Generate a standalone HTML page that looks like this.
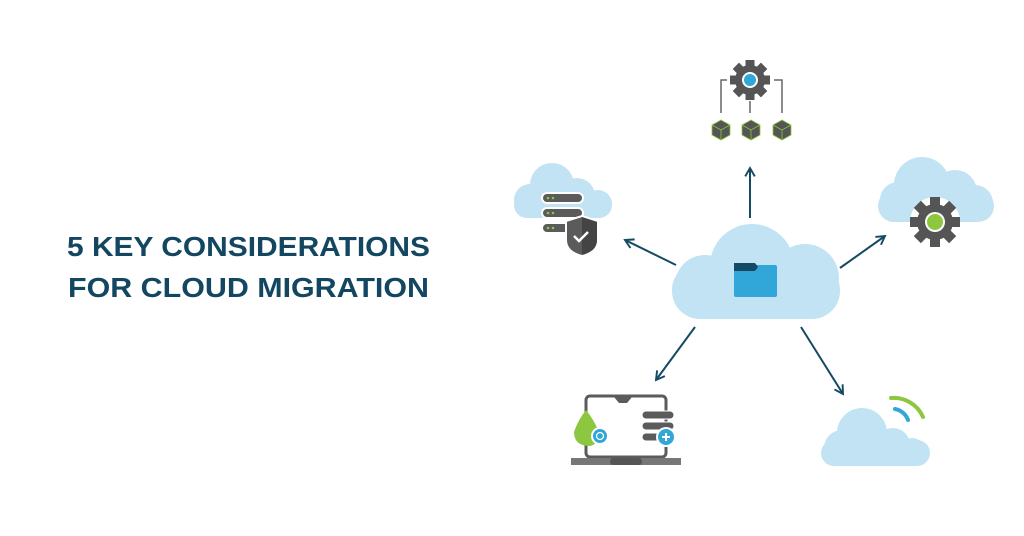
<!DOCTYPE html>
<html><head><meta charset="utf-8"><style>
html,body{margin:0;padding:0;background:#fff;width:1024px;height:536px;overflow:hidden}
svg{display:block}
</style></head><body>
<svg width="1024" height="536" viewBox="0 0 1024 536" xmlns="http://www.w3.org/2000/svg">
<defs>
<marker id="ah" viewBox="0 0 10 10" refX="8" refY="5" markerWidth="6" markerHeight="6" orient="auto"><path d="M1,1 L8,5 L1,9" fill="none" stroke="#144a63" stroke-width="1.6"/></marker>
</defs>
<text x="67" y="256" font-family="Liberation Sans, sans-serif" font-weight="bold" font-size="28" fill="#134761" textLength="363" lengthAdjust="spacingAndGlyphs">5 KEY CONSIDERATIONS</text>
<text x="68" y="297" font-family="Liberation Sans, sans-serif" font-weight="bold" font-size="28" fill="#134761" textLength="361" lengthAdjust="spacingAndGlyphs">FOR CLOUD MIGRATION</text>

<g stroke="#144a63" stroke-width="2" fill="none" marker-end="url(#ah)">
<line x1="750" y1="218" x2="750" y2="168"/>
<line x1="676" y1="265" x2="625" y2="240"/>
<line x1="840" y1="268" x2="885" y2="236"/>
<line x1="695" y1="327" x2="656" y2="380"/>
<line x1="801" y1="327" x2="843" y2="394"/>
</g>

<!-- center cloud -->
<g fill="#c2e3f3">
<rect x="672" y="262" width="168" height="57" rx="28"/>
<circle cx="752" cy="266" r="42"/>
<circle cx="805" cy="278" r="34"/>
<circle cx="705" cy="285" r="30"/>
</g>
<rect x="734" y="265" width="43" height="32" rx="2" fill="#31a6d9"/>
<path d="M734,263 h21 l3,4 l-3,4 h-21 z" fill="#144a63"/>

<!-- left cloud -->
<g fill="#c2e3f3">
<rect x="514" y="192" width="98" height="26" rx="13"/>
<circle cx="552" cy="185" r="22"/>
<circle cx="577" cy="196" r="18"/>
<circle cx="530" cy="200" r="16"/>
<circle cx="598" cy="204" r="14"/>
</g>
<g fill="#5b5b5b" stroke="#fff" stroke-width="2">
<rect x="542" y="193" width="41" height="10" rx="5"/>
<rect x="542" y="208" width="41" height="10" rx="5"/>
<rect x="542" y="223" width="41" height="10" rx="5"/>
</g>
<g fill="#8dc63f">
<circle cx="548" cy="198" r="1.3"/><circle cx="553" cy="198" r="1.3"/>
<circle cx="548" cy="213" r="1.3"/><circle cx="553" cy="213" r="1.3"/>
<circle cx="548" cy="228" r="1.3"/><circle cx="553" cy="228" r="1.3"/>
</g>
<path d="M566,221 L582,216 L598,221 V240 Q598,252 582,256 Q566,252 566,240 Z" fill="#5b5b5b" stroke="#fff" stroke-width="2"/>
<path d="M582,217 L597,222 V240 Q597,251 582,255 Z" fill="#444"/>
<path d="M574,236 l5,5 l9,-9" fill="none" stroke="#fff" stroke-width="2.5"/>

<!-- right cloud -->
<g fill="#c2e3f3">
<rect x="878" y="190" width="116" height="32" rx="16"/>
<circle cx="922" cy="185" r="28"/>
<circle cx="955" cy="192" r="22"/>
<circle cx="898" cy="200" r="18"/>
<circle cx="975" cy="203" r="18"/>
</g>
<g transform="translate(935,222)">
<circle r="25" fill="#fff"/>
<g fill="#555">
<circle r="18"/>
<rect x="-5" y="-25" width="10" height="50"/>
<rect x="-5" y="-25" width="10" height="50" transform="rotate(45)"/>
<rect x="-5" y="-25" width="10" height="50" transform="rotate(90)"/>
<rect x="-5" y="-25" width="10" height="50" transform="rotate(135)"/>
</g>
<circle r="10" fill="#fff"/><circle r="8" fill="#8dc63f"/>
</g>

<!-- top gear hierarchy -->
<g transform="translate(750,80)">
<g fill="#555">
<circle r="15"/>
<rect x="-4.5" y="-20" width="9" height="40"/>
<rect x="-4.5" y="-20" width="9" height="40" transform="rotate(45)"/>
<rect x="-4.5" y="-20" width="9" height="40" transform="rotate(90)"/>
<rect x="-4.5" y="-20" width="9" height="40" transform="rotate(135)"/>
</g>
<circle r="8" fill="#fff"/><circle r="6" fill="#31a6d9"/>
</g>
<g fill="none" stroke="#666" stroke-width="1.5">
<path d="M727,80 h-6 v33"/>
<path d="M774,80 h8 v33"/>
<path d="M750,101 v12"/>
</g>
<g fill="#555" stroke="#8dc63f" stroke-width="0.8">
<g transform="translate(721,130)"><path d="M0,-10 L9,-5 V5 L0,10 L-9,5 V-5 Z"/><path d="M-9,-5 L0,0 L9,-5 M0,0 V10" fill="none"/></g>
<g transform="translate(751,130)"><path d="M0,-10 L9,-5 V5 L0,10 L-9,5 V-5 Z"/><path d="M-9,-5 L0,0 L9,-5 M0,0 V10" fill="none"/></g>
<g transform="translate(782,130)"><path d="M0,-10 L9,-5 V5 L0,10 L-9,5 V-5 Z"/><path d="M-9,-5 L0,0 L9,-5 M0,0 V10" fill="none"/></g>
</g>

<!-- bottom right cloud -->
<g fill="#c2e3f3">
<rect x="821" y="440" width="109" height="26" rx="13"/>
<circle cx="862" cy="433" r="25"/>
<circle cx="893" cy="445" r="17"/>
<circle cx="842" cy="448" r="18"/>
<circle cx="912" cy="452" r="14"/>
</g>
<path d="M891,398 A32,32 0 0 1 923,417" fill="none" stroke="#8dc63f" stroke-width="4" stroke-linecap="round"/>
<path d="M895,409 A17,17 0 0 1 908,420" fill="none" stroke="#31a6d9" stroke-width="4" stroke-linecap="round"/>

<!-- laptop -->
<rect x="586" y="396" width="80" height="61" rx="4" fill="#fff" stroke="#5b5b5b" stroke-width="3"/>
<path d="M614,397 h18 l-5,6 h-8 z" fill="#5b5b5b"/>
<rect x="571" y="458" width="110" height="7" fill="#777"/>
<rect x="610" y="458" width="32" height="7" rx="3" fill="#555"/>
<path d="M586,410 Q578,420 574,432 Q574,446 590,446 Q600,444 598,430 Q594,420 586,410 Z" fill="#8dc63f"/>
<circle cx="600" cy="436" r="9" fill="#fff"/><circle cx="600" cy="436" r="7" fill="#31a6d9"/>
<circle cx="600" cy="436" r="3.5" fill="none" stroke="#fff" stroke-width="1.3"/>
<g fill="#5b5b5b" stroke="#fff" stroke-width="1">
<rect x="642" y="411" width="32" height="8" rx="4"/>
<rect x="642" y="422" width="32" height="8" rx="4"/>
<rect x="642" y="433" width="32" height="8" rx="4"/>
</g>
<circle cx="666" cy="437" r="10" fill="#fff"/><circle cx="666" cy="437" r="8" fill="#31a6d9"/>
<path d="M666,433 v8 M662,437 h8" stroke="#fff" stroke-width="2"/>
</svg>
</body></html>
